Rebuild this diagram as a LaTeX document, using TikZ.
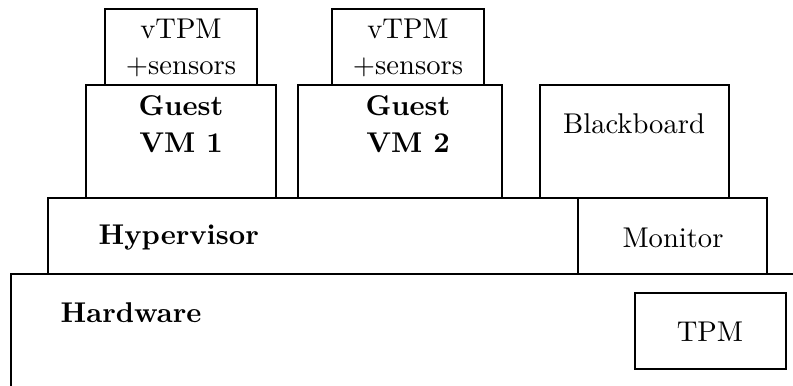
\documentclass[tikz,border=0pt]{standalone}
\usetikzlibrary{fit}
\begin{document}
\begin{tikzpicture}[x=0.35pt,y=-0.35pt,
  box/.style={draw, line width=0.4pt, inner sep=0pt, outer sep=0pt},
  txt/.style={inner sep=0pt, anchor=base},
  bld/.style={txt, font=\bfseries}]
\useasboundingbox (0,0) rectangle (793,385);
\clip (0,0) rectangle (793,385);
% layers
\node[box, fit={(11,274) (830,430)}] (hw) {};
\node[box, fit={(48,198) (578,274)}] (hyp) {};
\node[box, fit={(578,198) (767,274)}] (mon) {};
\node[box, fit={(86,85) (276,198)}] (vm1) {};
\node[box, fit={(298,85) (502,198)}] (vm2) {};
\node[box, fit={(540,85) (729,198)}] (bb) {};
\node[box, fit={(105,9) (257,85)}] (vtpm1) {};
\node[box, fit={(332,9) (484,85)}] (vtpm2) {};
\node[box, fit={(635,293) (786,369)}] (tpm) {};
% texts
\node[txt] (vtpm1a) at (181,38) {vTPM};
\node[txt] (vtpm1b) at (181,74) {$+$sensors};
\node[txt] (vtpm2a) at (408,38) {vTPM};
\node[txt] (vtpm2b) at (408,74) {$+$sensors};
\node[bld] (vm1a) at (181,115) {Guest};
\node[bld] (vm1b) at (181,152) {VM 1};
\node[bld] (vm2a) at (408,115) {Guest};
\node[bld] (vm2b) at (408,152) {VM 2};
\node[txt] (bbt) at (634,133) {Blackboard};
\node[bld, anchor=base west] (hypt) at (98,244) {Hypervisor};
\node[txt] (mont) at (673,247) {Monitor};
\node[bld, anchor=base west] (hwt) at (60,322) {Hardware};
\node[txt] (tpmt) at (710,341) {TPM};
\end{tikzpicture}
\end{document}
